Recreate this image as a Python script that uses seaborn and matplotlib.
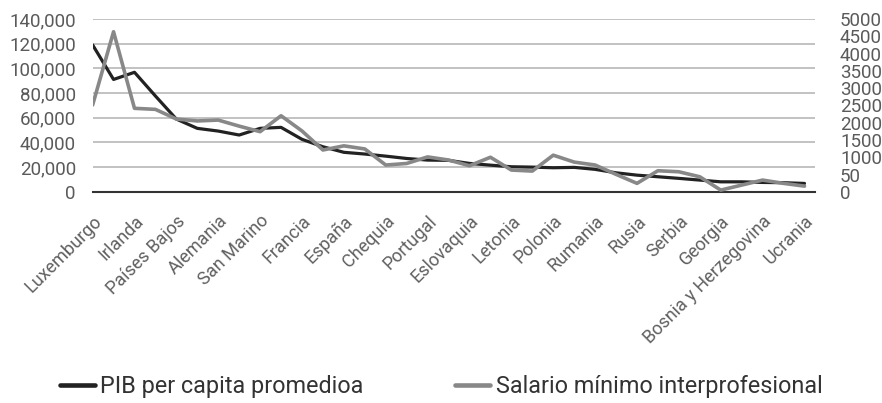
import matplotlib
matplotlib.use('Agg')
import matplotlib.pyplot as plt
import seaborn as sns
import pandas as pd

# Countries in chart order (only every other one is labelled on the axis)
paises = [
    "Luxemburgo", "Suiza", "Irlanda", "Noruega", "Países Bajos", "Dinamarca",
    "Alemania", "Bélgica", "San Marino", "Austria", "Francia", "Italia",
    "España", "Malta", "Chequia", "Eslovenia", "Portugal", "Lituania",
    "Eslovaquia", "Estonia", "Letonia", "Croacia", "Polonia", "Hungría",
    "Rumania", "Grecia", "Rusia", "Bulgaria", "Serbia", "Montenegro",
    "Georgia", "Macedonia del Norte", "Bosnia y Herzegovina", "Albania", "Ucrania",
]

pib = [
    119000, 91000, 96800, 77600, 58900, 51400, 49200, 46000, 51400, 52200,
    42500, 36500, 32000, 30600, 28900, 27000, 25700, 25500, 23000, 21600,
    20300, 20000, 19500, 19800, 18200, 15400, 13500, 12200, 10900, 9500,
    8100, 8100, 7600, 7400, 6800,
]

salario = [
    2510, 4630, 2415, 2385, 2105, 2050, 2075, 1900, 1740, 2200,
    1760, 1210, 1330, 1240, 775, 820, 1010, 920, 755, 1000,
    630, 600, 1060, 860, 775, 505, 245, 610, 580, 435,
    50, 195, 340, 245, 165,
]

ticks_izq = [0, 20000, 40000, 60000, 80000, 100000, 120000, 140000]
ticks_der = [0, 500, 1000, 1500, 2000, 2500, 3000, 3500, 4000, 4500, 5000]
etiquetas_der = ["0", "50", "1000", "1500", "2000", "2500", "3000", "3500", "4000", "4500", "5000"]

df = pd.DataFrame({"idx": range(len(paises)), "pais": paises, "pib": pib, "salario": salario})

sns.set_style("white")
plt.rcParams['font.family'] = ['Roboto', 'DejaVu Sans']

fig = plt.figure(figsize=(8.82, 4.03), dpi=100)
ax = fig.add_axes([0.105, 0.524, 0.819, 0.429])
ax2 = ax.twinx()

sns.lineplot(data=df, x="idx", y="pib", ax=ax, color="#222222", linewidth=2.3,
             label="PIB per capita promedioa", legend=False)
sns.lineplot(data=df, x="idx", y="salario", ax=ax2, color="#888888", linewidth=2.6,
             label="Salario mínimo interprofesional", legend=False)

ax.set_xlim(0, 34.5)
ax.set_ylim(0, 140000)
ax2.set_ylim(0, 5000)

ax.set_yticks(ticks_izq)
ax.set_yticklabels([f"{v:,}" for v in ticks_izq])
ax2.set_yticks(ticks_der)
ax2.set_yticklabels(etiquetas_der)

ax.set_xticks(range(len(paises)))
ax.set_xticklabels([p if i % 2 == 0 else "" for i, p in enumerate(paises)],
                   rotation=45, ha="right", rotation_mode="anchor")

ax.grid(axis="y", color="#bdbdbd", linewidth=1.3)
ax.set_axisbelow(True)
ax.set_xlabel("")
ax.set_ylabel("")
ax2.set_ylabel("")

for a in (ax, ax2):
    for s in ("top", "left", "right", "bottom"):
        a.spines[s].set_visible(False)
ax.spines["bottom"].set_visible(True)
ax.spines["bottom"].set_color("#333333")
ax.spines["bottom"].set_linewidth(1.5)

ax.tick_params(axis="x", direction="inout", length=7, width=1.3, color="#333333",
               labelsize=13, labelcolor="#606060", pad=11)
ax.tick_params(axis="y", length=0, labelsize=13.5, labelcolor="#5a5a5a", pad=12)
ax2.tick_params(axis="y", length=0, labelsize=13.5, labelcolor="#5a5a5a", pad=18)
ax2.grid(False)

h1, l1 = ax.get_legend_handles_labels()
h2, l2 = ax2.get_legend_handles_labels()
leg = fig.legend(h1 + h2, l1 + l2, loc="center", bbox_to_anchor=(0.5, 0.04), ncol=2,
                 frameon=False, fontsize=16.8, handlelength=1.5, handletextpad=0.25,
                 columnspacing=3.9, labelcolor="#333333")
for ln in leg.get_lines():
    ln.set_linewidth(3.3)

fig.savefig("out.png", dpi=100)
